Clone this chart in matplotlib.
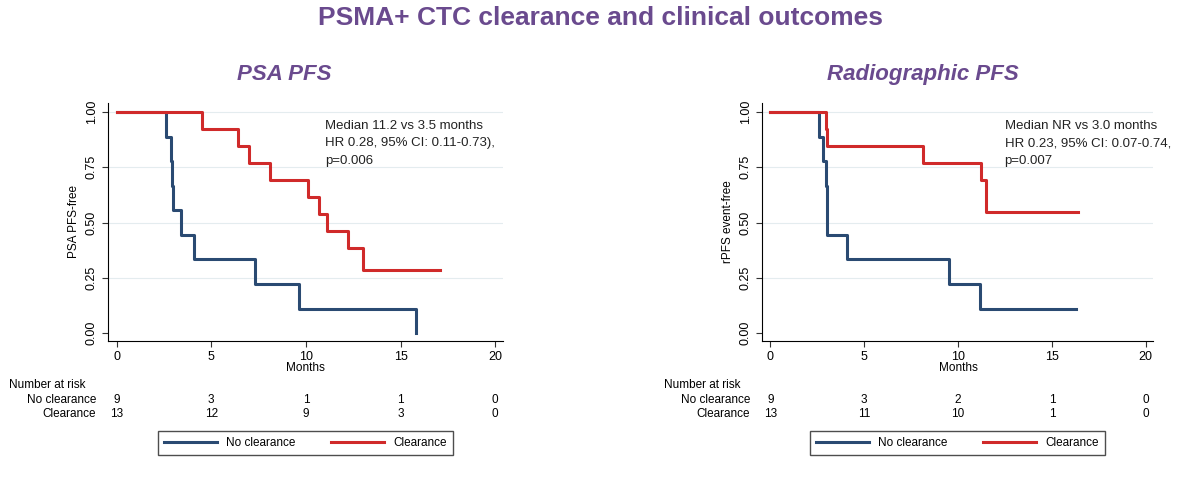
import matplotlib
matplotlib.use("Agg")
import matplotlib.pyplot as plt
from matplotlib.lines import Line2D

plt.rcParams['font.family'] = ['Liberation Sans', 'DejaVu Sans']

# Kaplan-Meier step data (time in months, survival)
psa_no_t = [0, 2.6, 2.9, 2.92, 2.98, 3.4, 4.1, 7.3, 9.65, 15.8]
psa_no_s = [1.0, 0.889, 0.778, 0.667, 0.556, 0.444, 0.333, 0.222, 0.111, 0.0]
psa_no_end = 15.8
psa_cl_t = [0, 4.5, 6.4, 7.0, 8.1, 10.1, 10.7, 11.1, 12.2, 13.0]
psa_cl_s = [1.0, 0.923, 0.846, 0.769, 0.692, 0.615, 0.538, 0.462, 0.385, 0.286]
psa_cl_end = 17.1

rad_no_t = [0, 2.6, 2.8, 2.95, 3.0, 4.1, 9.5, 11.15]
rad_no_s = [1.0, 0.889, 0.778, 0.667, 0.444, 0.333, 0.222, 0.111]
rad_no_end = 16.3
rad_cl_t = [0, 2.95, 3.0, 8.15, 11.2, 11.5]
rad_cl_s = [1.0, 0.923, 0.846, 0.769, 0.692, 0.548]
rad_cl_end = 16.4

risk_times = [0, 5, 10, 15, 20]
psa_risk_no = [9, 3, 1, 1, 0]
psa_risk_cl = [13, 12, 9, 3, 0]
rad_risk_no = [9, 3, 2, 1, 0]
rad_risk_cl = [13, 11, 10, 1, 0]

purple = '#6a4a8e'
blue = '#2a4a72'
red = '#d02a2a'

fig = plt.figure(figsize=(12, 4.82), dpi=100)
fig.text(0.5, 0.962, 'PSMA+ CTC clearance and clinical outcomes', ha='center', va='center',
         fontsize=19, fontweight='bold', color=purple)


def km_panel(rect, subtitle, sub_x, ylabel, no_t, no_s, no_end, cl_t, cl_s, cl_end,
             risk_no, risk_cl, notes, note_x):
    ax = fig.add_axes(rect)
    ax.step(no_t + [no_end], no_s + [no_s[-1]], where='post', color=blue, lw=2.2)
    ax.step(cl_t + [cl_end], cl_s + [cl_s[-1]], where='post', color=red, lw=2.2)
    ax.set_xlim(-0.45, 20.4)
    ax.set_ylim(-0.035, 1.04)
    ax.set_xticks(risk_times)
    ax.set_yticks([0, 0.25, 0.5, 0.75, 1.0])
    ax.set_yticklabels(['0.00', '0.25', '0.50', '0.75', '1.00'], rotation=90, va='center')
    ax.tick_params(labelsize=9, length=4, width=0.8, color='#333333')
    for y in [0.25, 0.5, 0.75, 1.0]:
        ax.axhline(y, color='#e4ecef', lw=0.8, zorder=0)
    ax.spines['top'].set_visible(False)
    ax.spines['right'].set_visible(False)
    ax.set_ylabel(ylabel, fontsize=8.5, labelpad=4)
    fig.text(sub_x, 0.846, subtitle, ha='center', va='center', fontsize=16,
             fontweight='bold', style='italic', color=purple)
    ax.text(note_x, 0.93, notes, transform=ax.transAxes, fontsize=9.5, va='top',
            linespacing=1.6, color='#222222')

    # x label and number-at-risk table under the axis
    tr = ax.get_xaxis_transform()
    ax.text(10, -0.115, 'Months', transform=tr, ha='center', va='center', fontsize=8.5)
    ax.text(-0.25, -0.185, 'Number at risk', transform=ax.transAxes, ha='left',
            va='center', fontsize=8.5)
    ax.text(-0.03, -0.249, 'No clearance', transform=ax.transAxes, ha='right',
            va='center', fontsize=8.5)
    ax.text(-0.03, -0.308, 'Clearance', transform=ax.transAxes, ha='right',
            va='center', fontsize=8.5)
    for t, a, b in zip(risk_times, risk_no, risk_cl):
        ax.text(t, -0.249, str(a), transform=tr, ha='center', va='center', fontsize=8.5)
        ax.text(t, -0.308, str(b), transform=tr, ha='center', va='center', fontsize=8.5)

    handles = [Line2D([], [], color=blue, lw=2.2), Line2D([], [], color=red, lw=2.2)]
    leg = ax.legend(handles, ['No clearance', 'Clearance'], loc='center',
                    bbox_to_anchor=(0.5, -0.43), ncol=2, fontsize=8.5, frameon=True,
                    fancybox=False, handlelength=4.5, columnspacing=3, borderpad=0.5)
    leg.get_frame().set_edgecolor('#222222')
    leg.get_frame().set_linewidth(1.0)
    return ax


km_panel([0.09, 0.293, 0.329, 0.493], 'PSA PFS', 0.237, 'PSA PFS-free',
         psa_no_t, psa_no_s, psa_no_end, psa_cl_t, psa_cl_s, psa_cl_end,
         psa_risk_no, psa_risk_cl,
         'Median 11.2 vs 3.5 months\nHR 0.28, 95% CI: 0.11-0.73),\np=0.006', 0.55)
km_panel([0.635, 0.293, 0.326, 0.493], 'Radiographic PFS', 0.769, 'rPFS event-free',
         rad_no_t, rad_no_s, rad_no_end, rad_cl_t, rad_cl_s, rad_cl_end,
         rad_risk_no, rad_risk_cl,
         'Median NR vs 3.0 months\nHR 0.23, 95% CI: 0.07-0.74,\np=0.007', 0.62)

fig.savefig('out.png', dpi=100)
